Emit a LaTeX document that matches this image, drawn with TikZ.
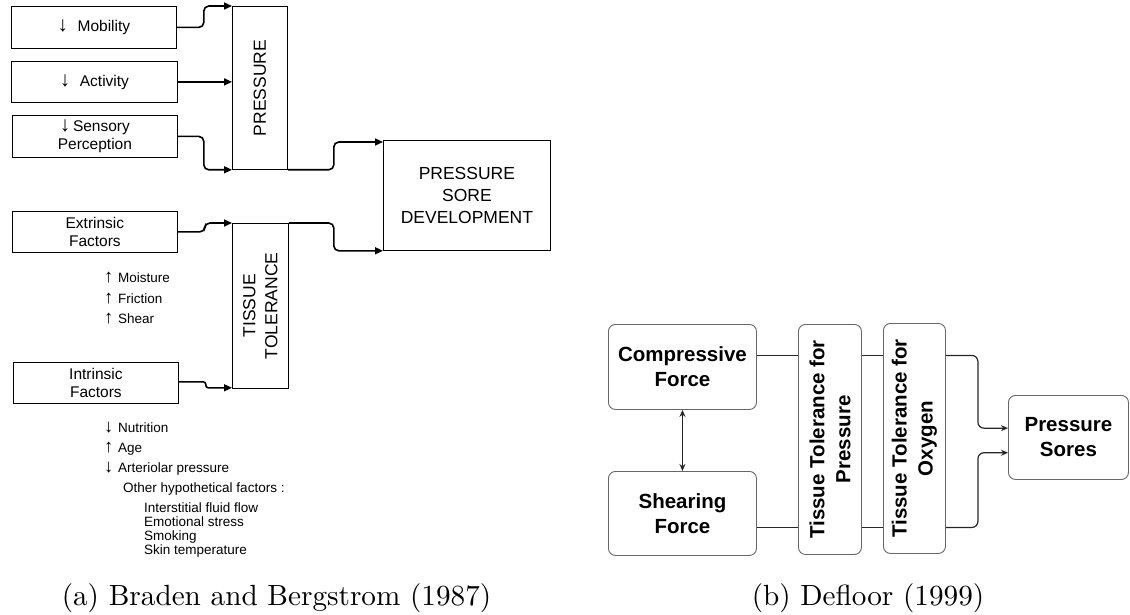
\documentclass[tikz,border=0pt]{standalone}
\usepackage{fontspec}
\setmainfont{Liberation Sans}
\newfontfamily\capfont{lmroman10-regular.otf}
\usetikzlibrary{arrows.meta}
\newcommand\fs[2]{\fontsize{#1}{#2}\selectfont}
\newcommand\bdn{{\fs{21}{18}↓}}
\newcommand\sdn{{\fs{18.5}{14}↓}}
\newcommand\sarrup{{\fs{18.5}{14}↑}}
\begin{document}
\begin{tikzpicture}[x=1pt,y=-1pt,
  lbox/.style={draw, line width=0.8pt, inner sep=0pt, align=center, font=\fs{15.5}{18}, anchor=north west},
  cbox/.style={draw, line width=0.8pt, inner sep=0pt, anchor=north west},
  caps/.style={font=\fs{17.5}{21.7}, align=center, inner sep=0pt},
  lst/.style={font=\fs{13.5}{14}, inner sep=0pt, anchor=west, align=left},
  larr/.style={line width=1.6pt, rounded corners=5pt, -{Triangle[length=8pt,width=7pt]}},
  rbox/.style={draw=black!60, line width=0.9pt, rounded corners=7pt, inner sep=0pt, anchor=north west, align=center, font=\bfseries\fs{20.5}{25}},
  rlab/.style={font=\bfseries\fs{20.5}{26}, align=center, inner sep=0pt, rotate=90},
  rline/.style={line width=1.2pt, draw=black!85},
  rarr/.style={rline, rounded corners=6pt, -{Stealth[length=7pt,width=6pt]}},
  captxt/.style={font=\capfont\fs{29.2}{30}, inner sep=0pt, anchor=base}
]
\useasboundingbox (0,0) rectangle (1130,615);

% ---------- (a) Braden and Bergstrom ----------
\node[lbox, minimum width=165, minimum height=42] (mob) at (11,6) {\makebox[20pt][l]{\bdn}Mobility};
\node[lbox, minimum width=166, minimum height=41] (act) at (11,61) {\makebox[20pt][l]{\bdn}Activity};
\node[lbox, minimum width=165, minimum height=42] (sen) at (12,115) {\bdn\,Sensory\\Perception};
\node[cbox, minimum width=55, minimum height=163] (pres) at (232,6) {};
\node[caps, rotate=90] (presl) at (pres.center) {PRESSURE};
\node[cbox, caps, minimum width=167, minimum height=110] (psd) at (383,140) {PRESSURE\\SORE\\DEVELOPMENT};
\node[lbox, minimum width=165, minimum height=41] (ext) at (12,211) {Extrinsic\\Factors};
\node[cbox, minimum width=56, minimum height=165] (tt) at (232,223) {};
\node[caps, rotate=90, font=\fs{17.5}{22}] (ttl) at (tt.center) {TISSUE\\TOLERANCE};
\node[lbox, minimum width=165, minimum height=41] (int) at (13,362) {Intrinsic\\Factors};

\node[lst] (m1) at (104,278) {\makebox[14pt][l]{\sarrup}Moisture};
\node[lst] (m2) at (104,299) {\makebox[14pt][l]{\sarrup}Friction};
\node[lst] (m3) at (104,319) {\makebox[14pt][l]{\sarrup}Shear};
\node[lst] (n1) at (104,428) {\makebox[14pt][l]{\sdn}Nutrition};
\node[lst] (n2) at (104,449) {\makebox[14pt][l]{\sarrup}Age};
\node[lst] (n3) at (104,469) {\makebox[14pt][l]{\sdn}Arteriolar pressure};
\node[lst] (oh) at (123,489) {Other hypothetical factors :};
\node[lst] (ol) at (144,530) {Interstitial fluid flow\\Emotional stress\\Smoking\\Skin temperature};

\draw[larr] (mob.east) -- ++(27,0) |- (pres.north west);
\draw[larr] (act.east) -- (act.east -| pres.west);
\draw[larr] (sen.east) -- ++(26,0) |- (pres.south west);
\draw[larr] (pres.south east) -- ++(46,0) |- ([yshift=-2pt]psd.north west);
\draw[larr] (ext.east) -- ++(27,0) |- (tt.north west);
\draw[larr, rounded corners=2.5pt] ([yshift=1pt]int.east) -- ++(27,0) |- ([yshift=1pt]tt.south west);
\draw[larr] (tt.north east) -- ++(45,0) |- (psd.south west);

\node[captxt] (capa) at (276.5,605) {(a) Braden and Bergstrom (1987)};

% ---------- (b) Defloor ----------
\node[rbox, minimum width=148, minimum height=85] (cf) at (608,324) {Compressive\\Force};
\node[rbox, minimum width=148, minimum height=84] (sf) at (608,471) {Shearing\\Force};
\node[rbox, minimum width=63, minimum height=230] (ttp) at (798,324) {};
\node[rlab] (ttpl) at (ttp.center) {Tissue Tolerance for\\Pressure};
\node[rbox, minimum width=62, minimum height=230] (tto) at (883,323) {};
\node[rlab] (ttol) at (tto.center) {Tissue Tolerance for\\Oxygen};
\node[rbox, minimum width=120, minimum height=84] (ps) at (1008,395) {Pressure\\Sores};

\draw[rline, {Stealth[length=7pt,width=6pt]}-{Stealth[length=7pt,width=6pt]}] (cf.south) -- (sf.north);

\coordinate (c1) at ([yshift=11.5pt]cf.east);
\coordinate (c2) at ([yshift=-14pt]sf.east);
\draw[rline] (c1) -- (c1 -| ttp.west);
\draw[rline] (c1 -| ttp.east) -- (c1 -| tto.west);
\draw[rline] (c2) -- (c2 -| ttp.west);
\draw[rline] (c2 -| ttp.east) -- (c2 -| tto.west);
\draw[rarr] (c1 -| tto.east) -- ++(32,0) |- ([yshift=9.3pt]ps.west);
\draw[rarr] (c2 -| tto.east) -- ++(32,0) |- ([yshift=-15.3pt]ps.west);

\node[captxt] (capb) at (868,605) {(b) Defloor (1999)};
\end{tikzpicture}
\end{document}
